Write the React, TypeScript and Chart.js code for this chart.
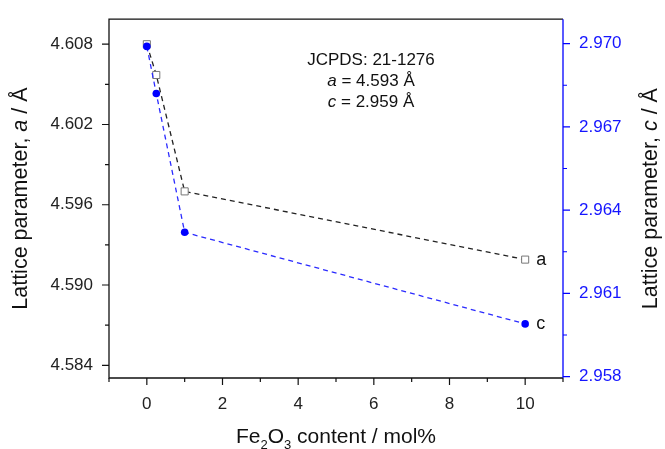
import React, { useEffect, useRef } from 'react';
import { Chart, registerables } from 'chart.js';

Chart.register(...registerables);

// ---- data ----
const xValues = [0, 0.25, 1, 10];
const aValues = [4.608, 4.6057, 4.597, 4.5919];
const cValues = [2.9699, 2.9682, 2.9632, 2.9599];
const seriesLabels = ['a', 'c'];

const xMajorTicks = [0, 2, 4, 6, 8, 10];
const xMinorTicks = [-1, 1, 3, 5, 7, 9, 11];
const aMajorTicks = [4.584, 4.59, 4.596, 4.602, 4.608];
const aMinorTicks = [4.587, 4.593, 4.599, 4.605];
const cMajorTicks = [2.958, 2.961, 2.964, 2.967, 2.97];
const cMinorTicks = [2.9595, 2.9625, 2.9655, 2.9685];

const jcpdsCard = 'JCPDS: 21-1276';
const refA = '4.593';
const refC = '2.959';

const FONT = '"Liberation Sans", Arial, Helvetica, sans-serif';
const BLUE = '#0000ff';
const BLACK = '#111111';
const TITLE_SIZE = 21.5;

type Seg = { text: string; size: number; italic?: boolean; dy?: number };

function segFont(s: Seg) {
  return `${s.italic ? 'italic ' : ''}${s.size}px ${FONT}`;
}

function drawRich(ctx: CanvasRenderingContext2D, segs: Seg[], cx: number, y: number, color: string) {
  let total = 0;
  for (const s of segs) {
    ctx.font = segFont(s);
    total += ctx.measureText(s.text).width;
  }
  let x = cx - total / 2;
  ctx.fillStyle = color;
  ctx.textAlign = 'left';
  for (const s of segs) {
    ctx.font = segFont(s);
    ctx.fillText(s.text, x, y + (s.dy || 0));
    x += ctx.measureText(s.text).width;
  }
}

const decorPlugin = {
  id: 'decor',
  afterDraw(chart: any) {
    const { ctx, chartArea: ca, scales } = chart;
    const xs = scales.x, ys = scales.y, y1 = scales.y1;
    ctx.save();
    // frame
    ctx.lineWidth = 1.3;
    ctx.strokeStyle = BLACK;
    ctx.beginPath();
    ctx.moveTo(ca.right, ca.top);
    ctx.lineTo(ca.left, ca.top);
    ctx.lineTo(ca.left, ca.bottom);
    ctx.lineTo(ca.right, ca.bottom);
    ctx.stroke();
    ctx.strokeStyle = BLUE;
    ctx.beginPath();
    ctx.moveTo(ca.right, ca.top);
    ctx.lineTo(ca.right, ca.bottom);
    ctx.stroke();

    // tick marks
    ctx.lineWidth = 1.2;
    ctx.strokeStyle = BLACK;
    ctx.beginPath();
    for (const v of xMajorTicks) { const p = xs.getPixelForValue(v); ctx.moveTo(p, ca.bottom); ctx.lineTo(p, ca.bottom + 7); }
    for (const v of xMinorTicks) { const p = xs.getPixelForValue(v); ctx.moveTo(p, ca.bottom); ctx.lineTo(p, ca.bottom + 4); }
    for (const v of aMajorTicks) { const p = ys.getPixelForValue(v); ctx.moveTo(ca.left, p); ctx.lineTo(ca.left - 7, p); }
    for (const v of aMinorTicks) { const p = ys.getPixelForValue(v); ctx.moveTo(ca.left, p); ctx.lineTo(ca.left - 4, p); }
    ctx.stroke();
    ctx.strokeStyle = BLUE;
    ctx.beginPath();
    for (const v of cMajorTicks) { const p = y1.getPixelForValue(v); ctx.moveTo(ca.right, p); ctx.lineTo(ca.right + 7, p); }
    for (const v of cMinorTicks) { const p = y1.getPixelForValue(v); ctx.moveTo(ca.right, p); ctx.lineTo(ca.right + 4, p); }
    ctx.stroke();

    // axis titles
    ctx.textBaseline = 'middle';
    const midY = (ca.top + ca.bottom) / 2;
    ctx.save();
    ctx.translate(21, midY);
    ctx.rotate(-Math.PI / 2);
    drawRich(ctx, [
      { text: 'Lattice parameter, ', size: TITLE_SIZE },
      { text: 'a', size: TITLE_SIZE, italic: true },
      { text: ' / Å', size: TITLE_SIZE },
    ], 0, 0, BLACK);
    ctx.restore();
    ctx.save();
    ctx.translate(651, midY);
    ctx.rotate(-Math.PI / 2);
    drawRich(ctx, [
      { text: 'Lattice parameter, ', size: TITLE_SIZE },
      { text: 'c', size: TITLE_SIZE, italic: true },
      { text: ' / Å', size: TITLE_SIZE },
    ], 0, 0, BLACK);
    ctx.restore();

    ctx.textBaseline = 'alphabetic';
    drawRich(ctx, [
      { text: 'Fe', size: 21 },
      { text: '2', size: 13, dy: 6 },
      { text: 'O', size: 21 },
      { text: '3', size: 13, dy: 6 },
      { text: ' content / mol%', size: 21 },
    ], 336, 443, BLACK);

    // annotation
    ctx.textBaseline = 'middle';
    const annX = 371;
    drawRich(ctx, [{ text: jcpdsCard, size: 17 }], annX, 60, BLACK);
    drawRich(ctx, [{ text: 'a', size: 17, italic: true }, { text: ' = ' + refA + ' Å', size: 17 }], annX, 81, BLACK);
    drawRich(ctx, [{ text: 'c', size: 17, italic: true }, { text: ' = ' + refC + ' Å', size: 17 }], annX, 102, BLACK);

    // series end labels
    ctx.font = `18px ${FONT}`;
    ctx.textAlign = 'left';
    ctx.fillStyle = BLACK;
    const last = xValues.length - 1;
    ctx.fillText(seriesLabels[0], xs.getPixelForValue(xValues[last]) + 11, ys.getPixelForValue(aValues[last]));
    ctx.fillText(seriesLabels[1], xs.getPixelForValue(xValues[last]) + 11, y1.getPixelForValue(cValues[last]));
    ctx.restore();
  },
};

function makeTicks(major: number[], minor: number[]) {
  return (scale: any) => {
    scale.ticks = [...major, ...minor].sort((p, q) => p - q).map((v) => ({ value: v }));
  };
}

export default function App() {
  const ref = useRef<HTMLCanvasElement | null>(null);
  useEffect(() => {
    if (!ref.current) return;
    const chart = new Chart(ref.current, {
      type: 'line',
      data: {
        datasets: [
          {
            label: seriesLabels[1],
            data: xValues.map((x, i) => ({ x, y: cValues[i] })),
            yAxisID: 'y1',
            order: 0,
            borderColor: '#2b2bff',
            borderWidth: 1.3,
            borderDash: [5, 4],
            pointStyle: 'circle',
            pointRadius: 3.8,
            pointBackgroundColor: BLUE,
            pointBorderColor: BLUE,
            pointBorderWidth: 0,
            tension: 0,
            fill: false,
          },
          {
            label: seriesLabels[0],
            data: xValues.map((x, i) => ({ x, y: aValues[i] })),
            yAxisID: 'y',
            order: 1,
            borderColor: '#222222',
            borderWidth: 1.3,
            borderDash: [5, 4],
            pointStyle: 'rect',
            pointRadius: 5,
            pointBackgroundColor: '#ffffff',
            pointBorderColor: '#777777',
            pointBorderWidth: 1,
            tension: 0,
            fill: false,
          },
        ],
      },
      options: {
        responsive: false,
        animation: false,
        layout: { padding: { top: 10, left: 0, right: 0, bottom: 0 } },
        plugins: { legend: { display: false }, tooltip: { enabled: false } },
        scales: {
          x: {
            type: 'linear',
            position: 'bottom',
            min: -1,
            max: 11,
            afterBuildTicks: makeTicks(xMajorTicks, xMinorTicks),
            afterFit: (s: any) => { s.height = 71; },
            grid: { display: false, drawTicks: true, tickLength: 7 },
            border: { display: false },
            ticks: {
              autoSkip: false,
              maxRotation: 0,
              padding: 9,
              color: '#222222',
              font: { family: FONT, size: 17 },
              callback: (v: any) => (xMajorTicks.includes(v) ? String(v) : ''),
            },
          },
          y: {
            type: 'linear',
            position: 'left',
            min: 4.58305,
            max: 4.60987,
            afterBuildTicks: makeTicks(aMajorTicks, aMinorTicks),
            afterFit: (s: any) => { s.width = 109; },
            grid: { display: false, drawTicks: true, tickLength: 7 },
            border: { display: false },
            ticks: {
              autoSkip: false,
              padding: 9,
              color: '#222222',
              font: { family: FONT, size: 17 },
              callback: (v: any) => (aMajorTicks.includes(v) ? Number(v).toFixed(3) : ''),
            },
          },
          y1: {
            type: 'linear',
            position: 'right',
            min: 2.95795,
            max: 2.97088,
            afterBuildTicks: makeTicks(cMajorTicks, cMinorTicks),
            afterFit: (s: any) => { s.width = 102; },
            grid: { display: false, drawTicks: true, tickLength: 7 },
            border: { display: false },
            ticks: {
              autoSkip: false,
              padding: 9,
              color: '#1515ff',
              font: { family: FONT, size: 17 },
              callback: (v: any) => (cMajorTicks.includes(v) ? Number(v).toFixed(3) : ''),
            },
          },
        },
      },
      plugins: [decorPlugin],
    } as any);
    return () => chart.destroy();
  }, []);
  return (
    <div style={{ position: 'absolute', left: 0, top: 0, width: 665, height: 449, background: '#fff' }}>
      <canvas ref={ref} width={665} height={449} style={{ display: 'block' }} />
    </div>
  );
}
